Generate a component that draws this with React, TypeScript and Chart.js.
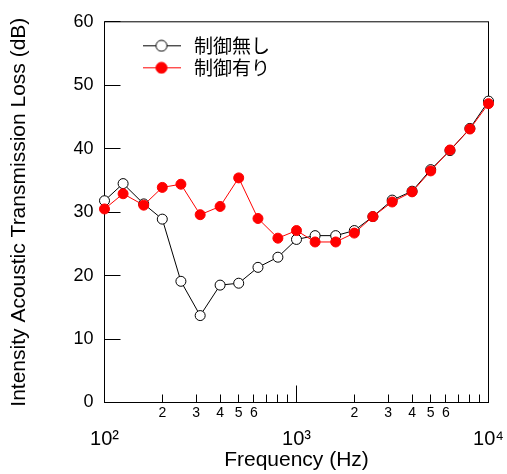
import React, { useEffect, useRef } from 'react';
import { Chart, registerables } from 'chart.js';

Chart.register(...registerables);

// ---- data ----
const frequencies = [100, 125, 160, 200, 250, 315, 400, 500, 630, 800, 1000, 1250, 1600, 2000, 2500, 3150, 4000, 5000, 6300, 8000, 10000];
const noControl = [31.8, 34.5, 31.3, 28.9, 19.1, 13.7, 18.5, 18.8, 21.3, 22.9, 25.7, 26.3, 26.3, 27.1, 29.3, 31.9, 33.3, 36.7, 39.7, 43.2, 47.5];
const withControl = [30.5, 32.9, 31.1, 33.9, 34.4, 29.6, 30.9, 35.4, 29.0, 25.9, 27.1, 25.3, 25.3, 26.7, 29.3, 31.6, 33.2, 36.5, 39.8, 43.1, 47.1];
const seriesNames = ['制御無し', '制御有り'];

const yTickStep = 10;
const yMin = 0;
const yMax = 60;
const xMajorTicks = [100, 1000, 10000];
const xMajorLabels = ['10²', '10³', '10⁴'];
const xMinorSteps = [2, 3, 4, 5, 6, 7, 8, 9];
const xMinorLabelled = [2, 3, 4, 5, 6];
const xTitle = 'Frequency (Hz)';
const yTitle = 'Intensity Acoustic Transmission Loss (dB)';

const FONT = "'Liberation Sans', Arial, sans-serif";
const CJK = "'Noto Sans CJK JP', sans-serif";

function mantissa(v: number) {
  const e = Math.floor(Math.log10(v) + 1e-9);
  return Math.round(v / Math.pow(10, e));
}

function makeIcon(line: string, fill: string, stroke: string) {
  const c = document.createElement('canvas');
  c.width = 38;
  c.height = 14;
  const g = c.getContext('2d')!;
  g.strokeStyle = line;
  g.lineWidth = 1;
  g.beginPath();
  g.moveTo(0, 7.5);
  g.lineTo(38, 7.5);
  g.stroke();
  g.beginPath();
  g.arc(19, 7.5, 5.5, 0, Math.PI * 2);
  g.fillStyle = fill;
  g.fill();
  g.strokeStyle = stroke;
  g.stroke();
  return c;
}

const frameAndTicks = {
  id: 'frameAndTicks',
  beforeDatasetsDraw(chart: any) {
    const { ctx, chartArea, scales } = chart;
    const { left, right, top, bottom } = chartArea;
    const x = scales.x;
    const y = scales.y;
    ctx.save();
    ctx.strokeStyle = '#000';
    ctx.lineWidth = 1;
    ctx.strokeRect(left, top, right - left, bottom - top);
    ctx.beginPath();
    y.ticks.forEach((t: any) => {
      const py = Math.floor(y.getPixelForValue(t.value)) + 0.5;
      ctx.moveTo(left, py);
      ctx.lineTo(left + 16, py);
    });
    x.ticks.forEach((t: any) => {
      const px = Math.floor(x.getPixelForValue(t.value)) + 0.5;
      const len = xMajorTicks.includes(t.value) ? 17 : 8;
      ctx.moveTo(px, bottom);
      ctx.lineTo(px, bottom - len);
    });
    ctx.stroke();
    ctx.restore();
  },
};

const placeLegend = {
  id: 'placeLegend',
  afterLayout(chart: any) {
    const l = chart.legend;
    if (!l) return;
    const ca = chart.chartArea;
    l.left = ca.left + 31;
    l.top = ca.top + 11;
    l.right = ca.right;
    l.bottom = ca.bottom;
    l.width = l.right - l.left;
    l.height = l.bottom - l.top;
  },
};

export default function App() {
  const ref = useRef<HTMLCanvasElement | null>(null);

  useEffect(() => {
    if (!ref.current) return;
    const icons = [makeIcon('#000', '#fff', '#000'), makeIcon('#ff0000', '#ff0000', '#ff0000')];
    const chart = new Chart(ref.current, {
      type: 'line',
      data: {
        datasets: [
          {
            label: seriesNames[0],
            data: frequencies.map((f, i) => ({ x: f, y: noControl[i] })),
            borderColor: '#000',
            borderWidth: 1,
            pointRadius: 5,
            pointBackgroundColor: '#fff',
            pointBorderColor: '#000',
            pointBorderWidth: 1,
            tension: 0,
            clip: false,
            order: 2,
          } as any,
          {
            label: seriesNames[1],
            data: frequencies.map((f, i) => ({ x: f, y: withControl[i] })),
            borderColor: '#ff0000',
            borderWidth: 1,
            pointRadius: 5,
            pointBackgroundColor: '#ff0000',
            pointBorderColor: '#ff0000',
            pointBorderWidth: 1,
            tension: 0,
            clip: false,
            order: 1,
          } as any,
        ],
      },
      options: {
        responsive: false,
        animation: false,
        events: [],
        layout: { padding: { left: 0, top: 17.5, right: 18.5, bottom: 0 } },
        plugins: {
          tooltip: { enabled: false },
          legend: {
            display: true,
            position: 'chartArea' as any,
            align: 'start',
            labels: {
              usePointStyle: true,
              pointStyleWidth: 46,
              padding: 3,
              color: '#000',
              font: { family: CJK, size: 19 },
              generateLabels: (ch: any) =>
                ch.data.datasets.map((ds: any, i: number) => ({
                  text: ds.label,
                  pointStyle: icons[i],
                  fillStyle: 'transparent',
                  strokeStyle: 'transparent',
                  lineWidth: 0,
                  hidden: false,
                  datasetIndex: i,
                  fontColor: '#000',
                })),
            },
          },
        },
        scales: {
          x: {
            type: 'logarithmic',
            min: xMajorTicks[0],
            max: xMajorTicks[xMajorTicks.length - 1],
            afterBuildTicks: (scale: any) => {
              const vals: number[] = [];
              for (let d = 0; d < xMajorTicks.length; d++) {
                vals.push(xMajorTicks[d]);
                if (d < xMajorTicks.length - 1) {
                  xMinorSteps.forEach((m) => vals.push(xMajorTicks[d] * m));
                }
              }
              scale.ticks = vals.map((v) => ({ value: v }));
            },
            afterFit: (scale: any) => {
              scale.height = 71.5;
            },
            grid: { display: false, drawTicks: false },
            border: { display: false },
            ticks: {
              autoSkip: false,
              maxRotation: 0,
              minRotation: 0,
              padding: 2,
              color: '#000',
              font: (c: any) =>
                c.tick && xMajorTicks.includes(c.tick.value)
                  ? { family: FONT, size: 20, lineHeight: 1.15 }
                  : { family: FONT, size: 14, lineHeight: 1.2 },
              callback: (value: any) => {
                const v = Number(value);
                const i = xMajorTicks.indexOf(v);
                if (i >= 0) return ['', xMajorLabels[i]];
                const m = mantissa(v);
                return xMinorLabelled.includes(m) ? String(m) : '';
              },
            },
            title: {
              display: true,
              text: xTitle,
              color: '#000',
              font: { family: FONT, size: 21, lineHeight: 1.2 },
              padding: { top: 0, bottom: 1 },
            },
          },
          y: {
            type: 'linear',
            min: yMin,
            max: yMax,
            afterFit: (scale: any) => {
              scale.width = 104.5;
            },
            grid: { display: false, drawTicks: false },
            border: { display: false },
            ticks: {
              stepSize: yTickStep,
              padding: 11,
              color: '#000',
              font: { family: FONT, size: 18 },
            },
            title: {
              display: true,
              text: yTitle,
              color: '#000',
              font: { family: FONT, size: 21, lineHeight: 1.2 },
              padding: { top: 7, bottom: 0 },
            },
          },
        },
      } as any,
      plugins: [frameAndTicks, placeLegend],
    });
    return () => chart.destroy();
  }, []);

  return (
    <div style={{ position: 'absolute', left: 0, top: 0, width: 507, height: 474, background: '#fff' }}>
      <canvas ref={ref} width={507} height={474} style={{ display: 'block' }} />
    </div>
  );
}
